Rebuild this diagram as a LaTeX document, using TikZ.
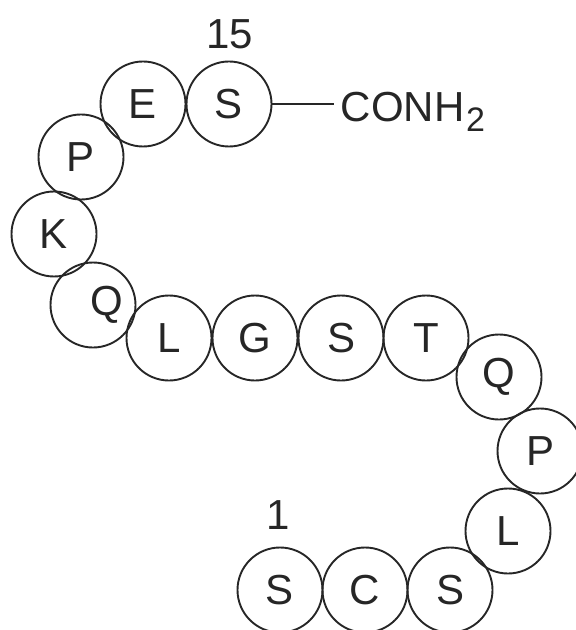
\documentclass[tikz,border=0pt]{standalone}
\usepackage{fontspec}
\setmainfont{Liberation Sans}
\usepackage{tikz}

\tikzset{res/.style={circle, draw, minimum size=42.5pt, inner sep=0pt}}

\begin{document}
\begin{tikzpicture}[x=0.5pt,y=-0.5pt,line width=0.95pt,black!85,font=\fontsize{21}{25}\selectfont]
\useasboundingbox (0,0) rectangle (576,630);

%% bottom row
\node[res] (s1) at (280,590) {S};
\node[res] (c2) at (365,590) {C};
\node[res] (s3) at (450,590) {S};

%% right turn
\node[res] (l4) at (508,531) {L};
\node[res] (p5) at (540,451) {P};
\node[res] (q6) at (499,377) {Q};

%% middle row
\node[res] (t7) at (426,338) {T};
\node[res] (s8) at (341,338) {S};
\node[res] (g9) at (255,338) {G};
\node[res] (l10) at (169,338) {L};

%% left turn
\node[res] (q11) at (93,305) {\hspace*{14pt}Q};
\node[res] (k12) at (54,234) {K};
\node[res] (p13) at (81,157) {P};

%% top row
\node[res] (e14) at (143,104) {E};
\node[res] (s15) at (229,104) {S};

%% ends
\node (n1) at (278,515) {1};
\node (n15) at (230,34) {15};
\node[anchor=base west, inner xsep=3pt] (conh) at (334,122)
  {CONH\kern0.8pt\raisebox{-5pt}{\fontsize{17}{20}\selectfont 2}};
\draw (s15) -- (s15 -| conh.west);

\end{tikzpicture}
\end{document}
